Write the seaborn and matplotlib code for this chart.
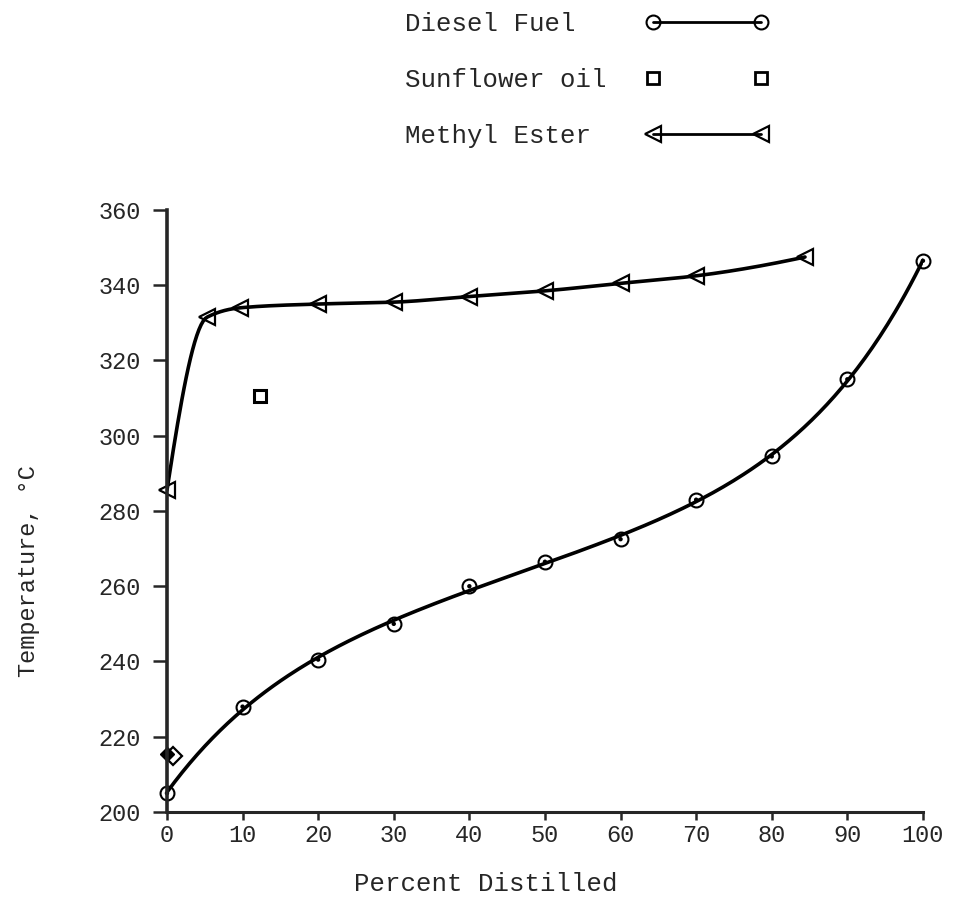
import numpy as np
import pandas as pd
import matplotlib
matplotlib.use('Agg')
import matplotlib.pyplot as plt
import seaborn as sns

# values
diesel_pct = [0, 10, 20, 30, 40, 50, 60, 70, 80, 90, 100]
diesel_temp = [205, 228, 240.5, 250, 260, 266.5, 272.5, 283, 294.5, 315, 346.5]

ester_pct = [0, 5.3, 9.7, 20, 30, 40, 50, 60, 70, 84.4]
ester_temp = [285.5, 331.5, 334, 335, 335.5, 337, 338.5, 340.5, 342.5, 347.5]

sunflower_pct = [12.3]
sunflower_temp = [310.5]

# the two diamonds sitting on the axis near 215
diamond_pct = [0, 0.8]
diamond_temp = [215.5, 215]

x_ticks = [0, 10, 20, 30, 40, 50, 60, 70, 80, 90, 100]
y_ticks = [200, 220, 240, 260, 280, 300, 320, 340, 360]


def pchip(x, y, n=300):
    # monotone cubic through the points (ester curve has a sharp knee)
    x = np.asarray(x, float)
    y = np.asarray(y, float)
    h = np.diff(x)
    d = np.diff(y) / h
    m = np.zeros_like(y)
    for k in range(1, len(x) - 1):
        if d[k - 1] * d[k] > 0:
            w1 = 2 * h[k] + h[k - 1]
            w2 = h[k] + 2 * h[k - 1]
            m[k] = (w1 + w2) / (w1 / d[k - 1] + w2 / d[k])
    m[0] = ((2 * h[0] + h[1]) * d[0] - h[0] * d[1]) / (h[0] + h[1])
    m[-1] = ((2 * h[-1] + h[-2]) * d[-1] - h[-1] * d[-2]) / (h[-1] + h[-2])
    xs = np.linspace(x[0], x[-1], n)
    idx = np.clip(np.searchsorted(x, xs) - 1, 0, len(h) - 1)
    t = (xs - x[idx]) / h[idx]
    h00 = 2 * t**3 - 3 * t**2 + 1
    h10 = t**3 - 2 * t**2 + t
    h01 = -2 * t**3 + 3 * t**2
    h11 = t**3 - t**2
    ys = h00 * y[idx] + h10 * h[idx] * m[idx] + h01 * y[idx + 1] + h11 * h[idx] * m[idx + 1]
    return pd.DataFrame({'x': xs, 'y': ys})


def smooth_fit(x, y, deg=5, n=300):
    # hand drawn best-fit curve for the diesel points
    x = np.asarray(x, float)
    u = (x - x.mean()) / (x.max() - x.mean())
    c = np.polyfit(u, y, deg)
    xs = np.linspace(x.min(), x.max(), n)
    us = (xs - x.mean()) / (x.max() - x.mean())
    return pd.DataFrame({'x': xs, 'y': np.polyval(c, us)})


sns.set_style('ticks')
plt.rcParams['font.family'] = ['Liberation Mono', 'DejaVu Sans']

fig = plt.figure(figsize=(9.64, 9.0), dpi=100)
ax = fig.add_axes([0.1732, 0.0978, 0.7842, 0.6689])

diesel = pd.DataFrame({'x': diesel_pct, 'y': diesel_temp})
ester = pd.DataFrame({'x': ester_pct, 'y': ester_temp})

# curves
sns.lineplot(data=smooth_fit(diesel_pct, diesel_temp), x='x', y='y', ax=ax,
             color='black', lw=2.6, sort=False)
sns.lineplot(data=pchip(ester_pct, ester_temp), x='x', y='y', ax=ax,
             color='black', lw=2.6, sort=False)

# markers
ax.plot(diesel['x'], diesel['y'], ls='none', marker='o', ms=10,
        mfc='none', mec='black', mew=1.5, clip_on=False)
sns.scatterplot(data=diesel, x='x', y='y', ax=ax, color='black', s=10,
                edgecolor='none', clip_on=False)
ax.plot(ester['x'], ester['y'], ls='none', marker='<', ms=12,
        mfc='none', mec='black', mew=1.6, clip_on=False)
ax.plot(sunflower_pct, sunflower_temp, ls='none', marker='s', ms=8,
        mfc='none', mec='black', mew=2.2, clip_on=False)
ax.plot(diamond_pct[:1], diamond_temp[:1], ls='none', marker='D', ms=7,
        color='black', clip_on=False)
ax.plot(diamond_pct[1:], diamond_temp[1:], ls='none', marker='D', ms=9,
        mfc='none', mec='black', mew=1.6, clip_on=False)

ax.set_xlim(0, 100)
ax.set_ylim(200, 360)
ax.set_xticks(x_ticks)
ax.set_yticks(y_ticks)
ax.tick_params(axis='y', direction='out', length=10, width=1.8, pad=9, labelsize=17)
ax.tick_params(axis='x', direction='out', length=6, width=1.8, pad=3, labelsize=17)

sns.despine(ax=ax)
ax.spines['left'].set_linewidth(2.6)
ax.spines['bottom'].set_linewidth(2.2)

ax.set_xlabel('Percent Distilled', fontsize=18.5, va='top')
ax.xaxis.set_label_coords(0.422, -0.10)
ax.set_ylabel('Temperature, °C', fontsize=17)
ax.yaxis.set_label_coords(-0.168, 0.40)

# legend: text first, line sample after it; pad labels so text lines up on the left
labels = ['Diesel Fuel', 'Sunflower oil', 'Methyl Ester']
width = max(len(s) for s in labels) + 1
labels = [s.ljust(width) for s in labels]
h_diesel = plt.Line2D([], [], color='black', lw=2, marker='o', ms=10,
                      mfc='none', mec='black', mew=1.5)
h_sun = plt.Line2D([], [], ls='none', marker='s', ms=8, mfc='none',
                   mec='black', mew=2)
h_ester = plt.Line2D([], [], color='black', lw=2, marker='<', ms=12,
                     mfc='none', mec='black', mew=1.6)
fig.legend([h_diesel, h_sun, h_ester], labels,
           loc='upper left', bbox_to_anchor=(405 / 964, 1 - 12 / 900),
           bbox_transform=fig.transFigure, markerfirst=False, numpoints=2,
           handlelength=4.8, handletextpad=0.9, labelspacing=1.25,
           borderpad=0, borderaxespad=0, frameon=False, fontsize=18.5)

fig.savefig('out.png', dpi=100, facecolor='white')
